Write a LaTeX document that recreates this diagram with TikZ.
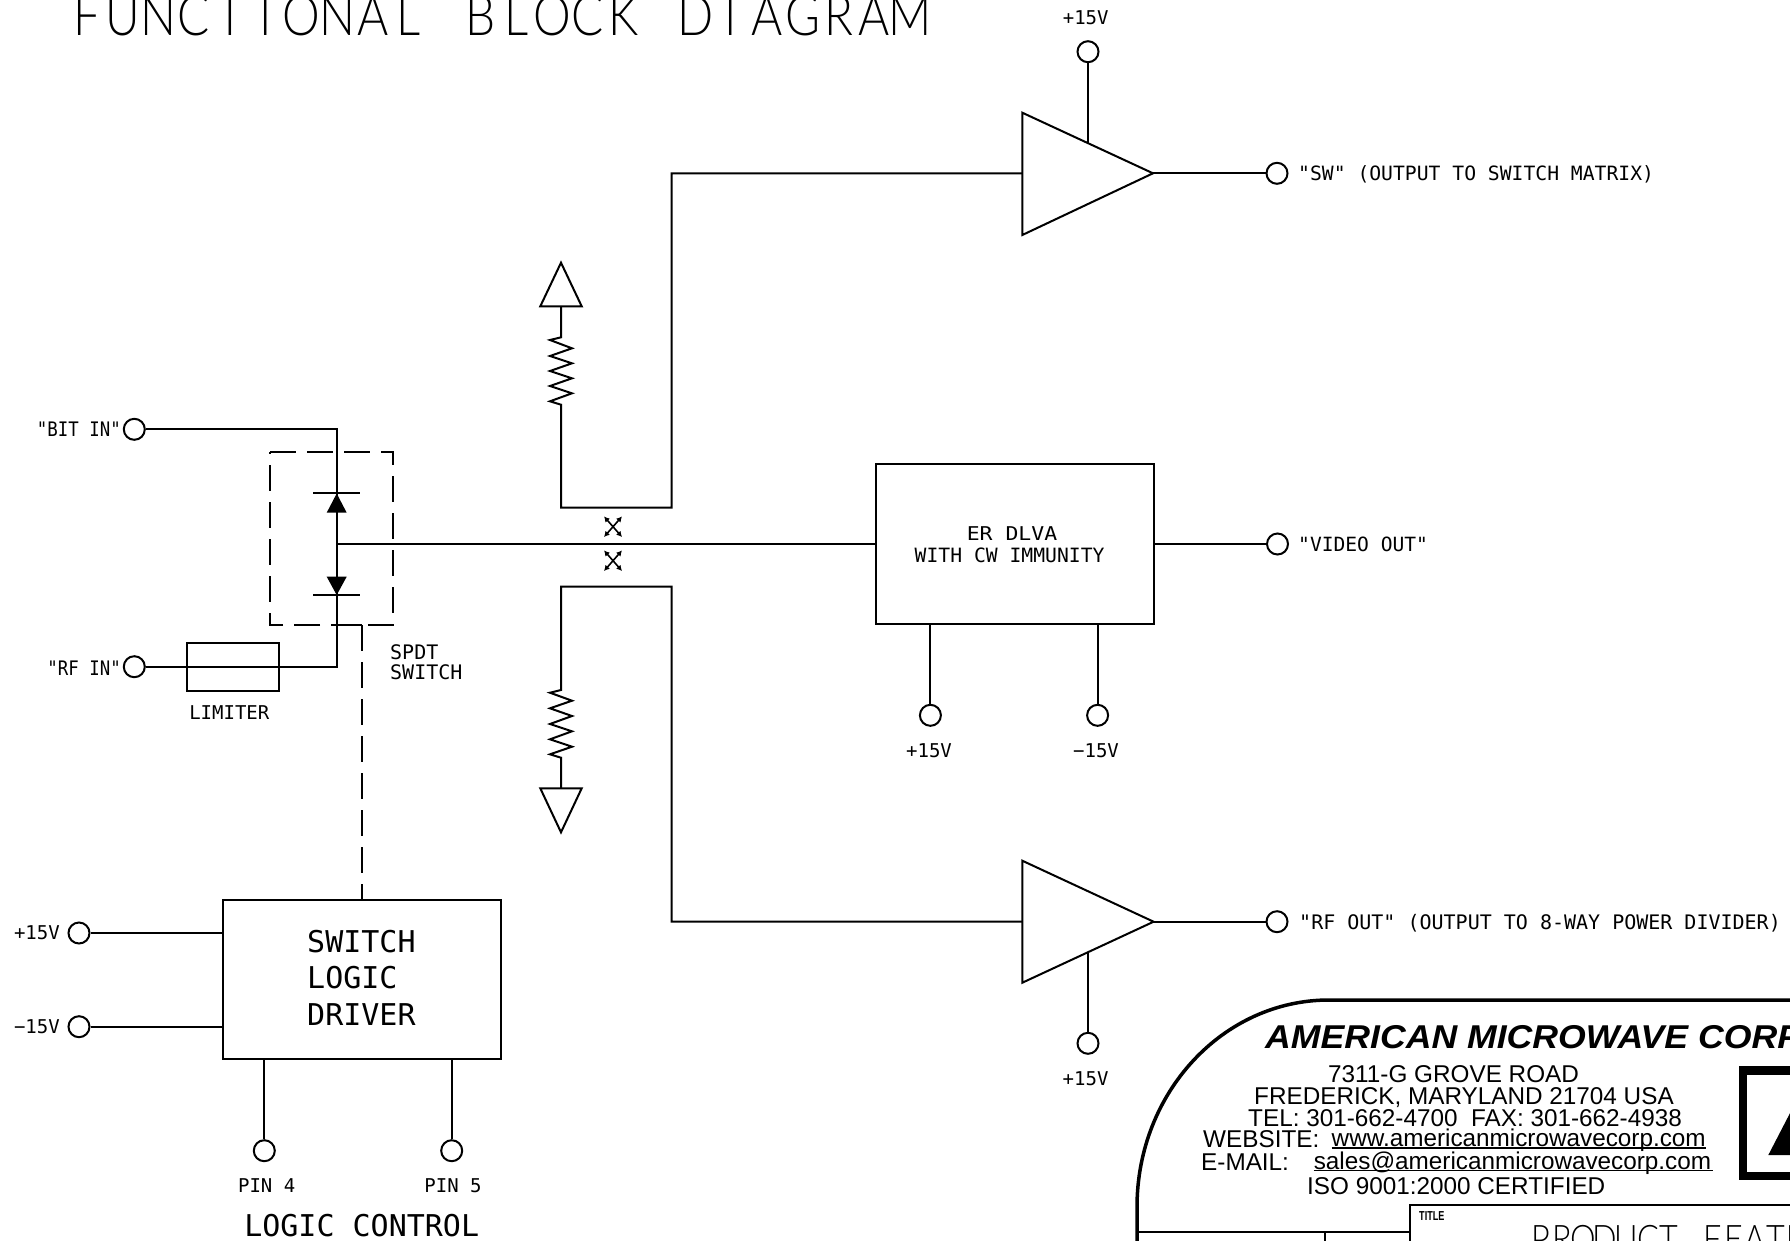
\documentclass[tikz,border=0pt]{standalone}
\usepackage{fontspec}
\usetikzlibrary{arrows.meta}
\setmainfont{Liberation Sans}
\newfontfamily\cadfont{DejaVu Sans Mono}
\newfontfamily\thinfont[FakeStretch=0.85]{Lato Light}
\newcommand\bigch[1]{\makebox[35.8pt][c]{#1}}
\newcommand\subch[1]{\makebox[21.4pt][c]{#1}}
\tikzset{
  x=1pt,y=-1pt,
  wire/.style={line width=2pt,line join=miter},
  term/.style={circle,draw,line width=2pt,minimum size=21pt,inner sep=0pt,fill=white},
  cadbox/.style={draw,line width=2pt,inner sep=0pt},
  lab/.style={inner sep=0pt,font=\cadfont\fontsize{20}{22}\selectfont,align=left},
  labsm/.style={inner sep=0pt,font=\cadfont\fontsize{19}{21}\selectfont},
  labbig/.style={inner sep=0pt,font=\cadfont\fontsize{30}{36.5}\selectfont,align=left},
  addr/.style={inner sep=0pt,font=\fontsize{24.3}{24.3}\selectfont},
  ctl/.style={wire,dash pattern=on 26pt off 11pt},
  xmark/.style={line width=1.6pt,{Latex[length=5.5pt,width=6pt]}-{Latex[length=5.5pt,width=6pt]}},
}
\begin{document}
\begin{tikzpicture}
\useasboundingbox (0,0) rectangle (1790,1240);
% title
\node[inner sep=0pt,anchor=base west,font=\thinfont\fontsize{56}{56}\selectfont] (title) at (68.5,35)
 {\bigch{F}\bigch{U}\bigch{N}\bigch{C}\bigch{T}\bigch{I}\bigch{O}\bigch{N}\bigch{A}\bigch{L}\bigch{~}\bigch{B}\bigch{L}\bigch{O}\bigch{C}\bigch{K}\bigch{~}\bigch{D}\bigch{I}\bigch{A}\bigch{G}\bigch{R}\bigch{A}\bigch{M}};
% left switch
\node[term] (bit) at (134.3,429.3) {};
\node[term] (rf) at (134.3,666.7) {};
\node[lab,anchor=east] (bitl) at (121,429.5) {\addfontfeature{FakeStretch=0.87}"BIT IN"};
\node[lab,anchor=east] (rfl) at (121,668) {\addfontfeature{FakeStretch=0.87}"RF IN"};
\coordinate (top) at (336.7,429.3);
\coordinate (bot) at (336.7,666.7);
\coordinate (junc) at (336.7,544);
\draw[wire] (bit) -- (top) -- (bot) -- (rf);
\node[cadbox,minimum width=91.7pt,minimum height=47.4pt,fill=none] (lim) at (233.2,667) {};
\node[labsm] (liml) at (229.3,712.3) {LIMITER};
\draw[ctl] (270,451.7) -- (393.3,451.7) -- (393.3,625.3) -- (270,625.3) -- cycle;
% diodes
\draw[wire] (313,493.3) -- (360,493.3);
\fill (336.7,493.5) -- (346.7,512.7) -- (326.7,512.7) -- cycle;
\draw[wire] (313,595) -- (360,595);
\fill (336.7,595) -- (346.7,576.7) -- (326.7,576.7) -- cycle;
\node[lab,anchor=north west,font=\cadfont\fontsize{20}{20}\selectfont] (spdt) at (390,644) {SPDT\\SWITCH};
% driver
\node[cadbox,minimum width=278pt,minimum height=159.3pt] (drv) at (362,979.6) {};
\node[labbig,anchor=north west] (drvl) at (307,930) {SWITCH\\LOGIC\\DRIVER};
\draw[wire] (336.7,625.3) -- (362,625.3);
\draw[ctl] (362,625.3) -- (drv.north);
\node[term] (dp) at (79,933) {};
\node[term] (dm) at (79,1026.7) {};
\node[lab,anchor=east,font=\cadfont\fontsize{19}{21}\selectfont] (dpl) at (60,933) {+15V};
\node[lab,anchor=east,font=\cadfont\fontsize{19}{21}\selectfont] (dml) at (60,1026.7) {−15V};
\draw[wire] (dp) -- (dp -| drv.west);
\draw[wire] (dm) -- (dm -| drv.west);
\node[term] (p4) at (264.3,1150.7) {};
\node[term] (p5) at (451.7,1150.7) {};
\draw[wire] (p4) -- (p4 |- drv.south);
\draw[wire] (p5) -- (p5 |- drv.south);
\node[labsm] (p4l) at (266.7,1185.7) {PIN 4};
\node[labsm] (p5l) at (453,1185.7) {PIN 5};
\node[labbig,anchor=center] (lc) at (361.7,1226) {LOGIC CONTROL};
% DLVA
\node[cadbox,minimum width=278.3pt,minimum height=159.4pt] (dlva) at (1014.8,544) {};
\node[labsm] (d1) at (1012,533.3) {\addfontfeature{FakeStretch=1.13}ER DLVA};
\node[labsm,font=\cadfont\fontsize{19.7}{21}\selectfont] (d2) at (1009.6,555.3) {WITH CW IMMUNITY};
\draw[wire] (junc) -- (dlva.west);
\node[term] (vo) at (1277.5,544) {};
\draw[wire] (dlva.east) -- (vo);
\node[labsm,anchor=west,font=\cadfont\fontsize{19.6}{21}\selectfont] (vol) at (1298,544.7) {"VIDEO OUT"};
\node[term] (dlp) at (930.4,715.3) {};
\node[term] (dlm) at (1097.6,715.3) {};
\draw[wire] (dlp) -- (dlp |- dlva.south);
\draw[wire] (dlm) -- (dlm |- dlva.south);
\node[labsm] (dlpl) at (929,750.7) {+15V};
\node[labsm] (dlml) at (1096,750.7) {−15V};
% couplers
\draw[xmark] (604,516.4) -- (622,537);
\draw[xmark] (622,516.4) -- (604,537);
\draw[xmark] (604,550.4) -- (622,571);
\draw[xmark] (622,550.4) -- (604,571);
% top amp
\coordinate (a1in) at (1022.3,173.3);
\draw[wire,line join=miter] (1022.3,112.7) -- (1153,173.3) -- (1022.3,235) -- cycle;
\node[term] (a1s) at (1088,51.7) {};
\coordinate (a1t) at (1088,143.3);
\draw[wire] (a1s) -- (a1t);
\node[labsm] (a1l) at (1085.7,17.3) {+15V};
\node[term] (a1o) at (1277,173.3) {};
\coordinate (a1x) at (1153,173.3);
\draw[wire] (a1x) -- (a1o);
\node[lab,anchor=west,font=\cadfont\fontsize{19.7}{22}\selectfont] (a1ol) at (1298,174.5) {"SW" (OUTPUT TO SWITCH MATRIX)};
\draw[wire] (561,306.3) -- (561,337.3) -- (550,340) -- (572,348.3) -- (550,356) -- (572,363.3) -- (550,371) -- (572,378.3) -- (550,386) -- (572,393.3) -- (550,401.3) -- (561,404.7) -- (561,507.7) -- (671.7,507.7) -- (671.7,173.3) -- (a1in);
\draw[wire] (561,262.7) -- (581.7,306.3) -- (540.3,306.3) -- cycle;
% bottom amp
\coordinate (a2in) at (1022.3,921.7);
\draw[wire] (1022.3,860.7) -- (1153.6,921.7) -- (1022.3,982.7) -- cycle;
\node[term] (a2s) at (1088,1043.3) {};
\coordinate (a2t) at (1088,952.7);
\draw[wire] (a2s) -- (a2t);
\node[labsm] (a2l) at (1085.6,1079) {+15V};
\node[term] (a2o) at (1277,921.7) {};
\coordinate (a2x) at (1153.6,921.7);
\draw[wire] (a2x) -- (a2o);
\node[lab,anchor=west] (a2ol) at (1299,923.5) {"RF OUT" (OUTPUT TO 8-WAY POWER DIVIDER)};
\draw[wire] (561,788.3) -- (561,757.7) -- (550,754.3) -- (572,746.7) -- (550,739.3) -- (572,731.3) -- (550,724) -- (572,716) -- (550,708.3) -- (572,700.7) -- (550,692.7) -- (561,690) -- (561,586.7) -- (671.7,586.7) -- (671.7,921.7) -- (a2in);
\draw[wire] (561,832.3) -- (581.7,788.3) -- (540.3,788.3) -- cycle;
% title block
\draw[line width=3.5pt] (1137,1250) -- (1137,1207) arc[start angle=180,end angle=270,x radius=192pt,y radius=-207pt] -- (1800,1000);
\draw[line width=2pt] (1137,1232.3) -- (1409.7,1232.3);
\draw[line width=2pt] (1325,1232.3) -- (1325,1250);
\draw[line width=2pt] (1800,1205) -- (1409.7,1205) -- (1409.7,1250);
\node[inner sep=0pt,anchor=west,font=\bfseries\itshape\fontsize{33}{33}\selectfont] (co) at (1265,1036.7) {\addfontfeature{FakeStretch=1.08}AMERICAN MICROWAVE CORP};
\node[addr,anchor=west] (l1) at (1328,1074.3) {7311-G GROVE ROAD};
\node[addr,anchor=west] (l2) at (1254,1097.5) {FREDERICK, MARYLAND 21704 USA};
\node[addr,anchor=west] (l3) at (1248,1118.3) {TEL: 301-662-4700\ \ FAX: 301-662-4938};
\node[addr,anchor=west] (l4a) at (1203,1139.3) {WEBSITE:};
\node[addr,anchor=west] (l4b) at (1331.5,1140.3) {www.americanmicrowavecorp.com};
\node[addr,anchor=west] (l5a) at (1201,1161.7) {E-MAIL:};
\node[addr,anchor=west] (l5b) at (1313.6,1162.7) {sales@americanmicrowavecorp.com};
\node[addr,anchor=west] (l6) at (1307,1186) {ISO 9001:2000 CERTIFIED};
\draw[line width=1.8pt] (1331.5,1148.2) -- (1706,1148.2);
\draw[line width=1.8pt] (1313.6,1170.5) -- (1713,1170.5);
\draw[line width=8.6pt] (1800,1070.4) -- (1743,1070.4) -- (1743,1175.8) -- (1800,1175.8);
\fill (1768.3,1155) -- (1810,1074.5) -- (1810,1155) -- cycle;
\node[inner sep=0pt,anchor=west,font=\bfseries\fontsize{13}{13}\selectfont] (tl) at (1419,1216) {\addfontfeature{FakeStretch=0.7}TITLE};
\node[inner sep=0pt,anchor=base west,font=\thinfont\fontsize{38}{38}\selectfont] (pf) at (1530,1252)
 {\subch{P}\subch{R}\subch{O}\subch{D}\subch{U}\subch{C}\subch{T}\subch{~}\subch{F}\subch{E}\subch{A}\subch{T}\subch{U}\subch{R}\subch{E}\subch{S}};
\end{tikzpicture}
\end{document}
